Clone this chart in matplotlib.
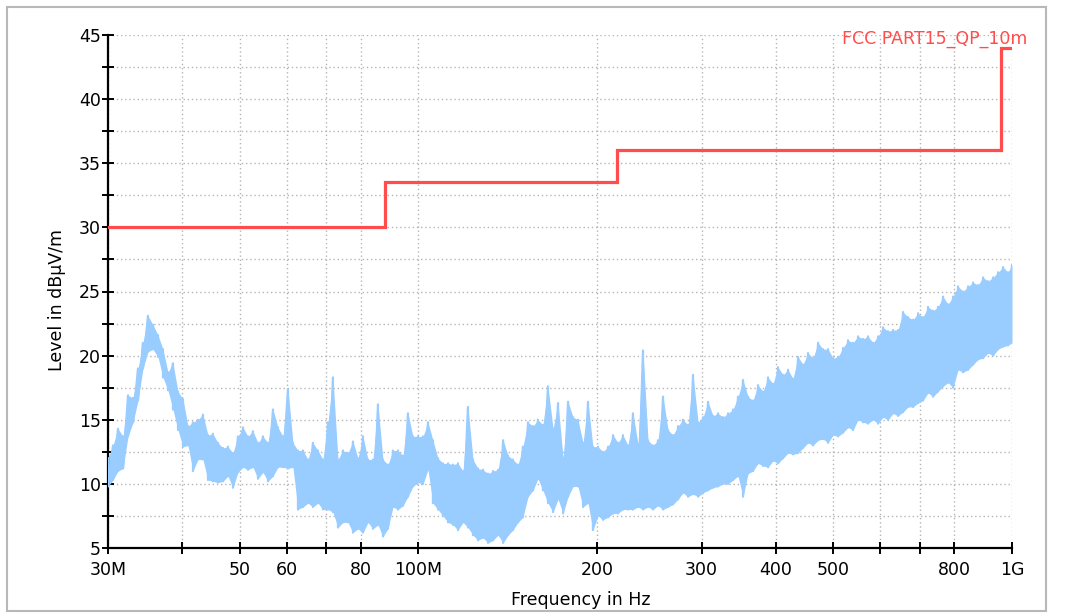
import numpy as np
import matplotlib
matplotlib.use("Agg")
import matplotlib.pyplot as plt
from matplotlib.ticker import FixedLocator, FixedFormatter, NullLocator
from matplotlib.patches import Rectangle

# ---------------- data ----------------
# limit line (FCC Part 15 QP, 10 m)
limit_freq_mhz = [30, 88, 216, 960, 1000]
limit_level = [30.0, 33.5, 36.0, 44.0, 44.0]
limit_name = "FCC PART15_QP_10m"

freq_mhz = [
    30.00, 30.59, 31.19, 31.80, 32.42, 33.06, 33.70, 34.36, 35.03, 35.72,
    36.42, 37.13, 37.86, 38.60, 39.36, 40.13, 40.91, 41.71, 42.53, 43.36,
    44.21, 45.07, 45.96, 46.86, 47.78, 48.71, 49.67, 50.64, 51.63, 52.64,
    53.67, 54.72, 55.80, 56.89, 58.00, 59.14, 60.30, 61.48, 62.68, 63.91,
    65.16, 66.43, 67.74, 69.06, 70.42, 71.79, 73.20, 74.63, 76.10, 77.59,
    79.11, 80.66, 82.24, 83.85, 85.49, 87.16, 88.87, 90.61, 92.39, 94.20,
    96.04, 97.92, 99.84, 101.8, 103.8, 105.8, 107.9, 110.0, 112.2, 114.4,
    116.6, 118.9, 121.2, 123.6, 126.0, 128.5, 131.0, 133.6, 136.2, 138.9,
    141.6, 144.3, 147.2, 150.0, 153.0, 156.0, 159.0, 162.1, 165.3, 168.6,
    171.9, 175.3, 178.7, 182.2, 185.7, 189.4, 193.1, 196.8, 200.7, 204.6,
    208.7, 212.8, 216.9, 221.1, 225.5, 229.9, 234.4, 239.0, 243.7, 248.4,
    253.3, 258.3, 263.4, 268.5, 273.8, 279.1, 284.6, 290.2, 295.9, 301.7,
    307.6, 313.6, 319.7, 326.0, 332.4, 338.9, 345.5, 352.3, 359.2, 366.2,
    373.4, 380.7, 388.2, 395.8, 403.5, 411.5, 419.5, 427.7, 436.1, 444.6,
    453.3, 462.2, 471.3, 480.5, 489.9, 499.5, 509.3, 519.3, 529.4, 539.8,
    550.4, 561.2, 572.1, 583.4, 594.8, 606.4, 618.3, 630.4, 642.7, 655.3,
    668.2, 681.3, 694.6, 708.2, 722.1, 736.2, 750.6, 765.3, 780.3, 795.6,
    811.2, 827.1, 843.3, 859.8, 876.7, 893.8, 911.3, 929.2, 947.4, 966.0,
    984.9, 1000.0,
]
level_peak = [
    12.0, 13.0, 14.3, 13.7, 16.9, 16.7, 19.0, 21.0, 23.1, 22.4,
    21.6, 20.5, 18.7, 19.4, 17.2, 16.6, 14.5, 14.8, 15.0, 15.4,
    13.8, 13.9, 13.2, 12.8, 12.9, 12.4, 13.7, 14.4, 13.7, 14.1,
    13.2, 13.7, 13.2, 15.8, 14.4, 13.7, 17.4, 13.2, 12.6, 12.6,
    11.9, 13.2, 12.6, 11.9, 14.8, 18.3, 11.9, 12.6, 12.4, 13.3,
    12.0, 13.7, 11.9, 11.9, 16.2, 11.9, 11.5, 12.6, 12.6, 12.2,
    15.5, 13.7, 13.7, 13.7, 14.8, 13.4, 12.0, 11.6, 11.6, 11.5,
    11.6, 11.0, 16.0, 11.9, 11.2, 11.1, 10.8, 11.0, 11.1, 13.4,
    12.2, 11.9, 11.5, 12.9, 14.8, 14.5, 15.0, 14.6, 17.6, 14.3,
    16.3, 12.0, 16.4, 15.2, 15.0, 13.2, 16.4, 12.9, 12.9, 12.5,
    12.9, 13.8, 13.2, 13.8, 13.0, 15.5, 13.1, 20.4, 13.4, 13.0,
    13.4, 16.8, 14.2, 13.8, 14.5, 15.0, 14.6, 18.5, 14.8, 15.2,
    16.4, 15.3, 15.5, 15.2, 15.5, 15.8, 16.8, 18.1, 16.8, 16.5,
    17.7, 17.2, 18.3, 17.8, 19.1, 18.5, 18.9, 18.2, 19.9, 19.3,
    20.2, 19.8, 21.0, 20.5, 20.5, 19.8, 19.9, 20.6, 21.2, 21.0,
    21.5, 21.3, 21.5, 21.0, 21.5, 22.2, 21.9, 22.0, 22.0, 23.4,
    23.0, 22.8, 23.3, 23.0, 23.8, 23.5, 23.8, 24.6, 24.0, 24.6,
    25.4, 25.0, 25.4, 25.7, 25.5, 26.1, 25.8, 26.1, 26.5, 26.9,
    26.5, 27.1,
]
level_floor = [
    9.8, 10.3, 11.0, 11.2, 13.7, 14.8, 16.5, 19.0, 20.3, 20.5,
    19.9, 18.3, 17.3, 15.8, 14.2, 12.9, 13.0, 11.0, 11.9, 11.9,
    10.3, 10.2, 10.1, 10.2, 10.6, 9.7, 10.9, 11.3, 11.1, 11.3,
    10.4, 10.9, 10.2, 10.6, 11.3, 11.3, 11.2, 11.3, 8.0, 8.2,
    8.5, 8.2, 8.5, 8.0, 8.0, 7.8, 6.6, 7.0, 7.0, 6.2,
    6.5, 6.2, 7.0, 6.5, 6.8, 5.9, 6.5, 8.2, 8.0, 8.3,
    9.0, 9.8, 10.1, 10.0, 11.1, 8.5, 8.0, 7.5, 7.0, 6.8,
    6.4, 7.0, 6.6, 6.0, 5.6, 5.8, 5.4, 5.6, 6.0, 5.4,
    6.0, 6.4, 7.0, 7.4, 9.0, 9.5, 10.4, 9.5, 8.5, 7.8,
    8.8, 7.7, 9.0, 9.8, 9.8, 8.2, 8.5, 6.4, 7.5, 7.2,
    7.4, 7.7, 7.7, 8.0, 8.0, 8.0, 8.2, 8.0, 8.2, 8.0,
    8.3, 8.0, 8.2, 8.4, 8.8, 9.3, 9.0, 9.2, 9.0, 9.3,
    9.5, 9.7, 9.8, 10.0, 10.0, 10.3, 10.6, 9.0, 10.8, 11.0,
    11.6, 11.4, 11.3, 11.8, 11.6, 12.0, 12.4, 12.3, 12.4, 12.8,
    13.2, 13.0, 13.4, 13.5, 13.2, 13.8, 13.7, 14.0, 14.4, 14.2,
    15.0, 14.8, 14.7, 15.0, 14.7, 15.2, 15.0, 15.5, 15.3, 15.6,
    16.0, 16.0, 16.3, 16.5, 17.1, 16.8, 17.2, 17.6, 17.9, 17.5,
    18.9, 18.7, 18.9, 19.3, 19.7, 19.8, 20.2, 20.0, 20.5, 20.7,
    20.8, 21.0,
]

x_ticks = [30, 40, 50, 60, 70, 80, 100, 200, 300, 400, 500, 600, 700, 800, 1000]
x_tick_labels = ["30M", "", "50", "60", "", "80", "100M", "200", "300", "400",
                 "500", "", "", "800", "1G"]
y_major = [5, 10, 15, 20, 25, 30, 35, 40, 45]
y_minor = [7.5, 12.5, 17.5, 22.5, 27.5, 32.5, 37.5, 42.5]

x_label = "Frequency in Hz"
y_label = "Level in dBμV/m"

# ---------------- style ----------------
BLUE = "#99ccff"
RED = "#ff4d4d"
GRID = "#b4b4b4"
FS = 12.5

plt.rcParams["font.family"] = ["DejaVu Sans"]

W, H = 1084, 613
fig = plt.figure(figsize=(W / 100, H / 100), dpi=100)
fig.patch.set_facecolor("white")
ax = fig.add_axes([108 / W, 1 - 548 / H, 904 / W, 513 / H])
ax.set_xscale("log")
ax.set_xlim(30, 1000)
ax.set_ylim(5, 45)

# trace: solid band plus saw-tooth edge through the read excursions
f = np.asarray(freq_mhz)
pk = np.asarray(level_peak)
fl = np.asarray(level_floor)
ax.fill_between(f, fl, pk, color=BLUE, lw=0, alpha=1.0, zorder=2)
xs = np.repeat(f, 2)
ys = np.column_stack([pk, fl]).ravel()
ax.plot(xs, ys, color=BLUE, lw=1.6, zorder=3)

# limit line
ax.plot(limit_freq_mhz, limit_level, drawstyle="steps-post", color=RED, lw=2.3,
        zorder=4, solid_joinstyle="miter")

# axes cosmetics
for s in ("top", "right"):
    ax.spines[s].set_visible(False)
for s in ("left", "bottom"):
    ax.spines[s].set_linewidth(1.6)
    ax.spines[s].set_color("black")

ax.xaxis.set_major_locator(FixedLocator(x_ticks))
ax.xaxis.set_major_formatter(FixedFormatter(x_tick_labels))
ax.xaxis.set_minor_locator(NullLocator())
ax.yaxis.set_major_locator(FixedLocator(y_major))
ax.yaxis.set_minor_locator(FixedLocator(y_minor))

ax.tick_params(axis="both", which="both", direction="inout", length=8.5, width=1.4,
               color="black", labelsize=FS, labelcolor="black")
ax.tick_params(axis="x", which="major", pad=5)
ax.tick_params(axis="y", which="major", pad=1)

ax.grid(True, axis="y", which="both", ls=(0, (1, 2)), color=GRID, lw=1.0, zorder=0)
ax.grid(True, axis="x", which="major", ls=(0, (1, 2)), color=GRID, lw=1.0, zorder=0)
ax.set_axisbelow(True)

fig.text(581 / W, 1 - 600 / H, x_label, ha="center", va="center", fontsize=FS)
fig.text(57 / W, 1 - 300 / H, y_label, ha="center", va="center", rotation=90, fontsize=FS)
fig.text(935 / W, 1 - 39 / H, limit_name, ha="center", va="center", color=RED, fontsize=FS)

# outer frame
fig.patches.append(Rectangle((7 / W, 2 / H), 1039 / W, 604 / H, transform=fig.transFigure,
                             fill=False, ec="#b8b8b8", lw=1.5))

fig.savefig("out.png", dpi=100, facecolor="white")
